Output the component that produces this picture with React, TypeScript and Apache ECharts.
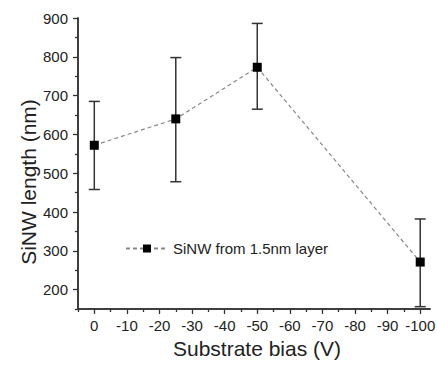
import React, { useEffect, useRef } from "react";
import * as echarts from "echarts";

const biasV = [0, -25, -50, -100];
const lengthNm = [572, 640, 773, 271];
const errLow = [458, 478, 665, 156];
const errHigh = [685, 798, 886, 382];
const xMajorTicks = [0, -10, -20, -30, -40, -50, -60, -70, -80, -90, -100];
const xMinorTicks = [5, -5, -15, -25, -35, -45, -55, -65, -75, -85, -95];
const yMajorTicks = [200, 300, 400, 500, 600, 700, 800, 900];
const yMinorTicks = [150, 250, 350, 450, 550, 650, 750, 850];
const seriesName = "SiNW from 1.5nm layer";
const xTitle = "Substrate bias (V)";
const yTitle = "SiNW length (nm)";

const FONT = "'Liberation Sans', Arial, sans-serif";
const AX = "#333";

export default function App() {
  const ref = useRef<HTMLDivElement>(null);
  useEffect(() => {
    const chart = echarts.init(ref.current!, null, { renderer: "svg" });
    const lineData = biasV.map((x, i) => [x, lengthNm[i]]);
    const errData = biasV.map((x, i) => [x, errLow[i], errHigh[i]]);
    const xCommon = {
      type: "value",
      min: -103,
      max: 5,
      inverse: true,
      position: "bottom",
      splitLine: { show: false },
      axisLine: { show: true, onZero: false, lineStyle: { color: AX, width: 1.5 } },
    };
    const yCommon = {
      type: "value",
      min: 150,
      max: 900,
      position: "left",
      splitLine: { show: false },
      axisLine: { show: true, onZero: false, lineStyle: { color: AX, width: 1.5 } },
    };
    chart.setOption({
      animation: false,
      backgroundColor: "#fff",
      textStyle: { fontFamily: FONT },
      grid: { left: 78, right: 7, top: 18, bottom: 57, containLabel: false, outerBoundsMode: "none" },
      legend: {
        show: true,
        data: [seriesName],
        left: 120,
        top: 236,
        itemWidth: 42,
        itemHeight: 10,
        textStyle: { fontFamily: FONT, fontSize: 15, color: "#222" },
      },
      xAxis: [
        {
          ...xCommon,
          axisTick: { show: true, length: 5, customValues: xMajorTicks, lineStyle: { color: AX, width: 1.3 } },
          axisLabel: {
            show: true,
            customValues: xMajorTicks,
            margin: 9,
            fontSize: 15,
            fontFamily: FONT,
            color: "#222",
          },
        },
        {
          ...xCommon,
          axisTick: { show: true, length: 3, customValues: xMinorTicks, lineStyle: { color: AX, width: 1.3 } },
          axisLabel: { show: false },
        },
      ],
      yAxis: [
        {
          ...yCommon,
          axisTick: { show: true, length: 5, customValues: yMajorTicks, lineStyle: { color: AX, width: 1.3 } },
          axisLabel: {
            show: true,
            customValues: yMajorTicks,
            margin: 10,
            fontSize: 15,
            fontFamily: FONT,
            color: "#222",
          },
        },
        {
          ...yCommon,
          axisTick: { show: true, length: 3, customValues: yMinorTicks, lineStyle: { color: AX, width: 1.3 } },
          axisLabel: { show: false },
        },
      ],
      graphic: [
        {
          type: "text",
          x: 257,
          y: 348,
          style: {
            text: xTitle,
            fontFamily: FONT,
            fontSize: 21,
            fill: "#222",
            align: "center",
            verticalAlign: "middle",
          },
        },
        {
          type: "text",
          x: 28,
          y: 182,
          rotation: Math.PI / 2,
          style: {
            text: yTitle,
            fontFamily: FONT,
            fontSize: 21,
            fill: "#222",
            align: "center",
            verticalAlign: "middle",
          },
        },
      ],
      series: [
        {
          type: "custom",
          name: "err",
          xAxisIndex: 0,
          yAxisIndex: 0,
          encode: { x: 0, y: [1, 2] },
          data: errData,
          z: 2,
          renderItem: (params: any, api: any) => {
            const x = api.value(0);
            const lo = api.coord([x, api.value(1)]);
            const hi = api.coord([x, api.value(2)]);
            const hw = 5.5;
            const style = { stroke: "#333", lineWidth: 1.5 };
            return {
              type: "group",
              children: [
                { type: "line", shape: { x1: lo[0], y1: lo[1], x2: hi[0], y2: hi[1] }, style },
                { type: "line", shape: { x1: hi[0] - hw, y1: hi[1], x2: hi[0] + hw, y2: hi[1] }, style },
                { type: "line", shape: { x1: lo[0] - hw, y1: lo[1], x2: lo[0] + hw, y2: lo[1] }, style },
              ],
            };
          },
        },
        {
          type: "line",
          name: seriesName,
          xAxisIndex: 0,
          yAxisIndex: 0,
          data: lineData,
          symbol: "rect",
          symbolSize: 9,
          z: 3,
          itemStyle: { color: "#000" },
          lineStyle: { color: "#888", width: 1.2, type: [4, 3] },
        },
      ],
    });
    return () => chart.dispose();
  }, []);
  return <div ref={ref} style={{ width: 437, height: 366, position: "absolute", left: 0, top: 0 }} />;
}
